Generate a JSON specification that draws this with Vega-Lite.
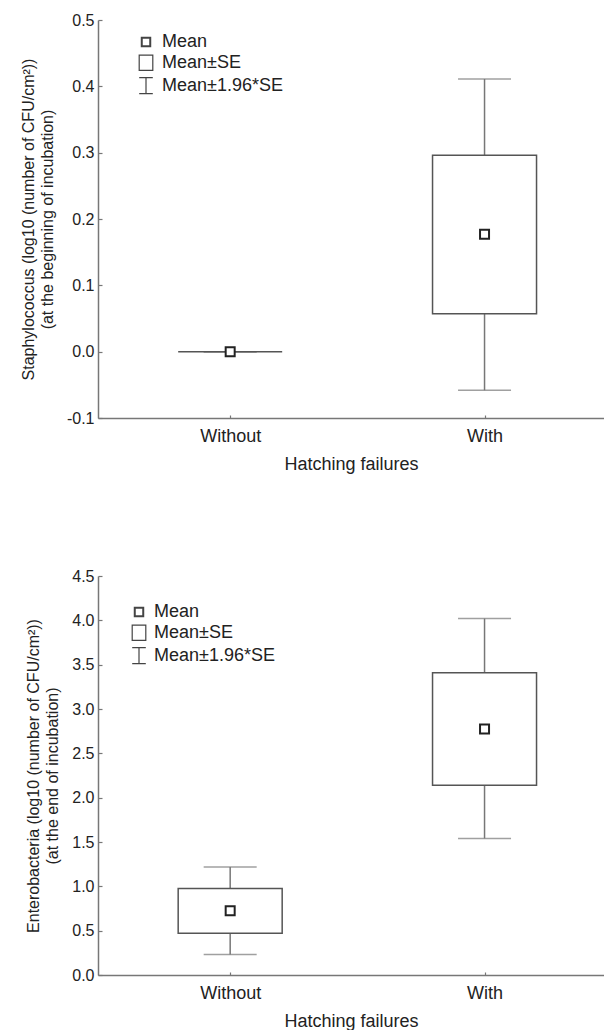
{
  "$schema": "https://vega.github.io/schema/vega-lite/v6.json",
  "padding": {"left": 20, "top": 12, "right": 0, "bottom": 0},
  "background": "white",
  "config": {
    "view": {"stroke": null},
    "axis": {
      "grid": false,
      "labelFont": "Liberation Sans",
      "titleFont": "Liberation Sans",
      "labelFontSize": 16,
      "titleFontSize": 16,
      "titleFontWeight": "normal",
      "labelColor": "#222",
      "titleColor": "#222",
      "domainColor": "#777",
      "domainWidth": 1.5,
      "tickColor": "#777",
      "tickWidth": 1.2
    },
    "legend": {
      "labelFont": "Liberation Sans",
      "labelFontSize": 18,
      "labelColor": "#222"
    }
  },
  "datasets": {
    "staph": [
      {"group": "Without", "mean": 0.0, "se_lo": 0.0, "se_hi": 0.0, "ci_lo": 0.0, "ci_hi": 0.0},
      {"group": "With", "mean": 0.177, "se_lo": 0.057, "se_hi": 0.296, "ci_lo": -0.058, "ci_hi": 0.411}
    ],
    "entero": [
      {"group": "Without", "mean": 0.724, "se_lo": 0.472, "se_hi": 0.976, "ci_lo": 0.23, "ci_hi": 1.218},
      {"group": "With", "mean": 2.775, "se_lo": 2.14, "se_hi": 3.41, "ci_lo": 1.54, "ci_hi": 4.02}
    ],
    "legend": [
      {"item": "Mean"},
      {"item": "Mean±SE"},
      {"item": "Mean±1.96*SE"}
    ]
  },
  "spacing": 95,
  "resolve": {"scale": {"x": "independent", "y": "independent", "shape": "independent"}, "legend": {"shape": "independent"}},
  "vconcat": [
    {
      "width": 506,
      "height": 398,
      "data": {"name": "staph"},
      "transform": [{"calculate": "indexof(['Without','With'], datum.group) + 1", "as": "pos"}],
      "encoding": {
        "x": {"field": "pos", "type": "quantitative",
          "scale": {"domain": [0.5, 2.45], "nice": false, "zero": false},
          "axis": {"values": [1, 2], "labelExpr": "datum.value == 1 ? 'Without' : 'With'", "title": "Hatching failures", "tickSize": -3, "labelPadding": 12, "labelFontSize": 18, "titleFontSize": 18, "titlePadding": 10}
        }
      },
      "layer": [
        {
          "mark": {"type": "rule", "color": "#777", "strokeWidth": 1.5},
          "encoding": {
            "y": {"field": "ci_lo", "type": "quantitative",
              "scale": {"domain": [-0.1, 0.5], "nice": false, "zero": false},
              "axis": {"values": [-0.1, 0, 0.1, 0.2, 0.3, 0.4, 0.5], "labelExpr": "datum.value < 0 ? '-' + format(-datum.value, '.1f') : format(datum.value, '.1f')", "tickSize": -4, "labelPadding": 8, "titlePadding": 11, "titleLineHeight": 19,
                "title": ["Staphylococcus (log10 (number of CFU/cm²))", "(at the beginning of incubation)"]}},
            "y2": {"field": "ci_hi"}
          }
        },
        {
          "mark": {"type": "tick", "orient": "horizontal", "size": 53, "thickness": 1.5, "color": "#777"},
          "encoding": {"y": {"field": "ci_lo", "type": "quantitative"}}
        },
        {
          "mark": {"type": "tick", "orient": "horizontal", "size": 53, "thickness": 1.5, "color": "#777"},
          "encoding": {"y": {"field": "ci_hi", "type": "quantitative"}}
        },
        {
          "mark": {"type": "bar", "width": 104, "fill": "white", "stroke": "#555", "strokeWidth": 1.5},
          "encoding": {
            "y": {"field": "se_lo", "type": "quantitative"},
            "y2": {"field": "se_hi"}
          }
        },
        {
          "mark": {"type": "point", "shape": "square", "size": 81, "filled": true, "fill": "white", "stroke": "#222", "strokeWidth": 2, "opacity": 1},
          "encoding": {"y": {"field": "mean", "type": "quantitative"}}
        },
        {
          "data": {"name": "legend"},
          "mark": {"type": "point", "opacity": 0},
          "encoding": {
            "x": {"value": 0},
            "y": {"value": 0},
            "shape": {"field": "item", "type": "nominal",
              "scale": {"domain": ["Mean", "Mean±SE", "Mean±1.96*SE"],
                "range": ["M-0.58,-0.58H0.58V0.58H-0.58Z M-0.48,-0.48H0.48V0.48H-0.48Z", "M-0.85,-0.95H0.85V0.95H-0.85Z", "M-0.85,-1H0.85M0,-1V1M-0.85,1H0.85"]},
              "legend": {"title": null, "orient": "none", "legendX": 39, "legendY": 13, "padding": 0, "symbolSize": 256, "symbolOpacity": 1, "symbolFillColor": "white", "symbolStrokeColor": "#444", "symbolStrokeWidth": 1.2, "labelOffset": 7, "rowPadding": 1.8}
            }
          }
        }
      ]
    },
    {
      "width": 506,
      "height": 399,
      "data": {"name": "entero"},
      "transform": [{"calculate": "indexof(['Without','With'], datum.group) + 1", "as": "pos"}],
      "encoding": {
        "x": {"field": "pos", "type": "quantitative",
          "scale": {"domain": [0.5, 2.45], "nice": false, "zero": false},
          "axis": {"values": [1, 2], "labelExpr": "datum.value == 1 ? 'Without' : 'With'", "title": "Hatching failures", "tickSize": -3, "labelPadding": 12, "labelFontSize": 18, "titleFontSize": 18, "titlePadding": 10}
        }
      },
      "layer": [
        {
          "mark": {"type": "rule", "color": "#777", "strokeWidth": 1.5},
          "encoding": {
            "y": {"field": "ci_lo", "type": "quantitative",
              "scale": {"domain": [0, 4.5], "nice": false, "zero": false},
              "axis": {"values": [0, 0.5, 1, 1.5, 2, 2.5, 3, 3.5, 4, 4.5], "format": ".1f", "tickSize": -4, "labelPadding": 8, "titlePadding": 11, "titleLineHeight": 19,
                "title": ["Enterobacteria (log10 (number of CFU/cm²))", "(at the end of incubation)"]}},
            "y2": {"field": "ci_hi"}
          }
        },
        {
          "mark": {"type": "tick", "orient": "horizontal", "size": 53, "thickness": 1.5, "color": "#777"},
          "encoding": {"y": {"field": "ci_lo", "type": "quantitative"}}
        },
        {
          "mark": {"type": "tick", "orient": "horizontal", "size": 53, "thickness": 1.5, "color": "#777"},
          "encoding": {"y": {"field": "ci_hi", "type": "quantitative"}}
        },
        {
          "mark": {"type": "bar", "width": 104, "fill": "white", "stroke": "#555", "strokeWidth": 1.5},
          "encoding": {
            "y": {"field": "se_lo", "type": "quantitative"},
            "y2": {"field": "se_hi"}
          }
        },
        {
          "mark": {"type": "point", "shape": "square", "size": 81, "filled": true, "fill": "white", "stroke": "#222", "strokeWidth": 2, "opacity": 1},
          "encoding": {"y": {"field": "mean", "type": "quantitative"}}
        },
        {
          "data": {"name": "legend"},
          "mark": {"type": "point", "opacity": 0},
          "encoding": {
            "x": {"value": 0},
            "y": {"value": 0},
            "shape": {"field": "item", "type": "nominal",
              "scale": {"domain": ["Mean", "Mean±SE", "Mean±1.96*SE"],
                "range": ["M-0.58,-0.58H0.58V0.58H-0.58Z M-0.48,-0.48H0.48V0.48H-0.48Z", "M-0.85,-0.95H0.85V0.95H-0.85Z", "M-0.85,-1H0.85M0,-1V1M-0.85,1H0.85"]},
              "legend": {"title": null, "orient": "none", "legendX": 32, "legendY": 27, "padding": 0, "symbolSize": 256, "symbolOpacity": 1, "symbolFillColor": "white", "symbolStrokeColor": "#444", "symbolStrokeWidth": 1.2, "labelOffset": 6, "rowPadding": 1.8}
            }
          }
        }
      ]
    }
  ]
}
